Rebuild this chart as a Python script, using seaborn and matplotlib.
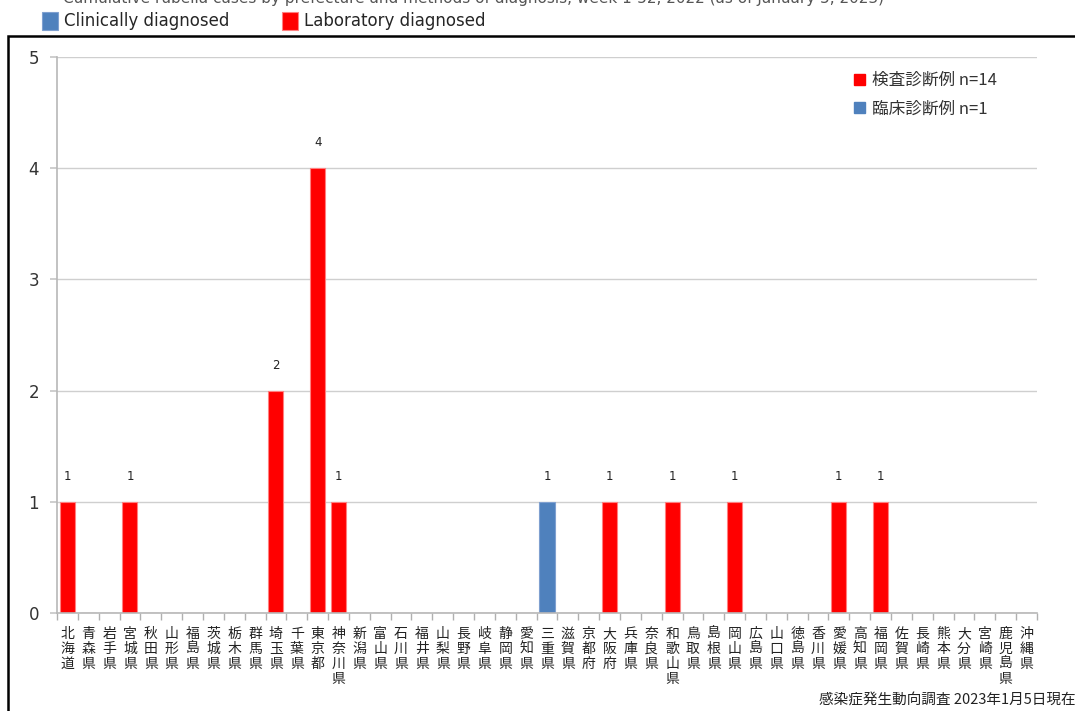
import matplotlib
matplotlib.use("Agg")
import matplotlib.pyplot as plt
import matplotlib.patches as mpatches
import seaborn as sns
import pandas as pd

prefectures = ["北海道", "青森県", "岩手県", "宮城県", "秋田県", "山形県", "福島県", "茨城県", "栃木県", "群馬県",
               "埼玉県", "千葉県", "東京都", "神奈川県", "新潟県", "富山県", "石川県", "福井県", "山梨県", "長野県",
               "岐阜県", "静岡県", "愛知県", "三重県", "滋賀県", "京都府", "大阪府", "兵庫県", "奈良県", "和歌山県",
               "鳥取県", "島根県", "岡山県", "広島県", "山口県", "徳島県", "香川県", "愛媛県", "高知県", "福岡県",
               "佐賀県", "長崎県", "熊本県", "大分県", "宮崎県", "鹿児島県", "沖縄県"]
lab_cases = [1, 0, 0, 1, 0, 0, 0, 0, 0, 0,
             2, 0, 4, 1, 0, 0, 0, 0, 0, 0,
             0, 0, 0, 0, 0, 0, 1, 0, 0, 1,
             0, 0, 1, 0, 0, 0, 0, 1, 0, 1,
             0, 0, 0, 0, 0, 0, 0]
clinical_cases = [0] * 23 + [1] + [0] * 23
series_names = ["Clinically diagnosed", "Laboratory diagnosed"]
inner_labels = ["検査診断例 n=14", "臨床診断例 n=1"]
title = "Cumulative rubella cases by prefecture and methods of diagnosis, week 1-52, 2022 (as of January 5, 2023)"
footer = "感染症発生動向調査 2023年1月5日現在"

colors = {"Clinically diagnosed": "#4F81BD", "Laboratory diagnosed": "#FF0000"}

rows = []
for p, l, c in zip(prefectures, lab_cases, clinical_cases):
    rows.append({"pref": p, "type": "Laboratory diagnosed", "n": l})
    rows.append({"pref": p, "type": "Clinically diagnosed", "n": c})
df = pd.DataFrame(rows)

sns.set_theme(style="white")
plt.rcParams["font.family"] = ["Noto Sans CJK JP", "DejaVu Sans"]

fig = plt.figure(figsize=(10.75, 7.11), dpi=100)
ax = fig.add_axes([57 / 1075, 98 / 711, 980 / 1075, 556 / 711])

sns.barplot(data=df, x="pref", y="n", hue="type", hue_order=series_names, order=prefectures,
            palette=colors, dodge=False, width=0.72, ax=ax, legend=True, linewidth=0.8,
            edgecolor="#FF8080", saturation=1)
for patch in ax.patches:
    if patch.get_facecolor()[2] > 0.5:
        patch.set_edgecolor("#7FA0D0")

ax.set_xlim(-0.5, len(prefectures) - 0.5)
ax.set_ylim(0, 5)
ax.set_yticks([0, 1, 2, 3, 4, 5])
ax.grid(axis="y", color="#CFCFCF", linewidth=1)
ax.set_axisbelow(True)
for s in ["top", "right"]:
    ax.spines[s].set_visible(False)
for s in ["left", "bottom"]:
    ax.spines[s].set_color("#B8B8B8")
    ax.spines[s].set_linewidth(1.2)

ax.set_xlabel("")
ax.set_ylabel("")
ax.set_xticks(range(len(prefectures)))
ax.set_xticklabels(["\n".join(list(p)) for p in prefectures], fontsize=10, linespacing=1.1,
                   color="#222222")
ax.set_xticks([i - 0.5 for i in range(len(prefectures) + 1)], minor=True)
ax.tick_params(axis="x", which="major", length=0, pad=10)
ax.tick_params(axis="x", which="minor", length=5, color="#B0B0B0", width=1, bottom=True)
ax.tick_params(axis="y", length=5, color="#C8C8C8", pad=8, labelsize=12, labelcolor="#333333", left=True)
for lbl in ax.get_yticklabels():
    lbl.set_family(["DejaVu Sans"])

for i, (l, c) in enumerate(zip(lab_cases, clinical_cases)):
    v = l + c
    if v > 0:
        ax.text(i, v + 0.17, str(v), ha="center", va="bottom", fontsize=8.5, color="#222222",
                family=["DejaVu Sans"])

handles, labels = ax.get_legend_handles_labels()
ax.get_legend().remove()
fig.legend(handles, labels, loc="upper left", bbox_to_anchor=(42 / 1075, 1 - 12 / 711), ncol=2,
           frameon=False, handlelength=0.95, handleheight=1.25, handletextpad=0.35,
           columnspacing=3.2, borderpad=0, borderaxespad=0,
           prop={"family": ["DejaVu Sans"], "size": 12})

inner_handles = [mpatches.Patch(color=colors["Laboratory diagnosed"]),
                 mpatches.Patch(color=colors["Clinically diagnosed"])]
ax.legend(inner_handles, inner_labels, loc="upper left", bbox_to_anchor=((854 - 57) / 980, 1 - 15 / 556),
          frameon=False, fontsize=12, handlelength=0.65, handleheight=0.65, handletextpad=0.4,
          labelspacing=0.7, borderpad=0, borderaxespad=0, labelcolor="#333333")

fig.text(63 / 1075, 1 - 3 / 711, title, ha="left", va="baseline", fontsize=11, color="#555555",
         family=["DejaVu Sans"])
fig.text(1 + 1 / 1075, 3 / 711, footer, ha="right", va="bottom", fontsize=10.5, color="#222222")

frame = mpatches.Rectangle((8 / 1075, -0.2), 1.2, 0.2 + 1 - 36 / 711, transform=fig.transFigure,
                           fill=False, edgecolor="black", linewidth=1.8, clip_on=False)
fig.patches.append(frame)

fig.savefig("out.png", dpi=100)
